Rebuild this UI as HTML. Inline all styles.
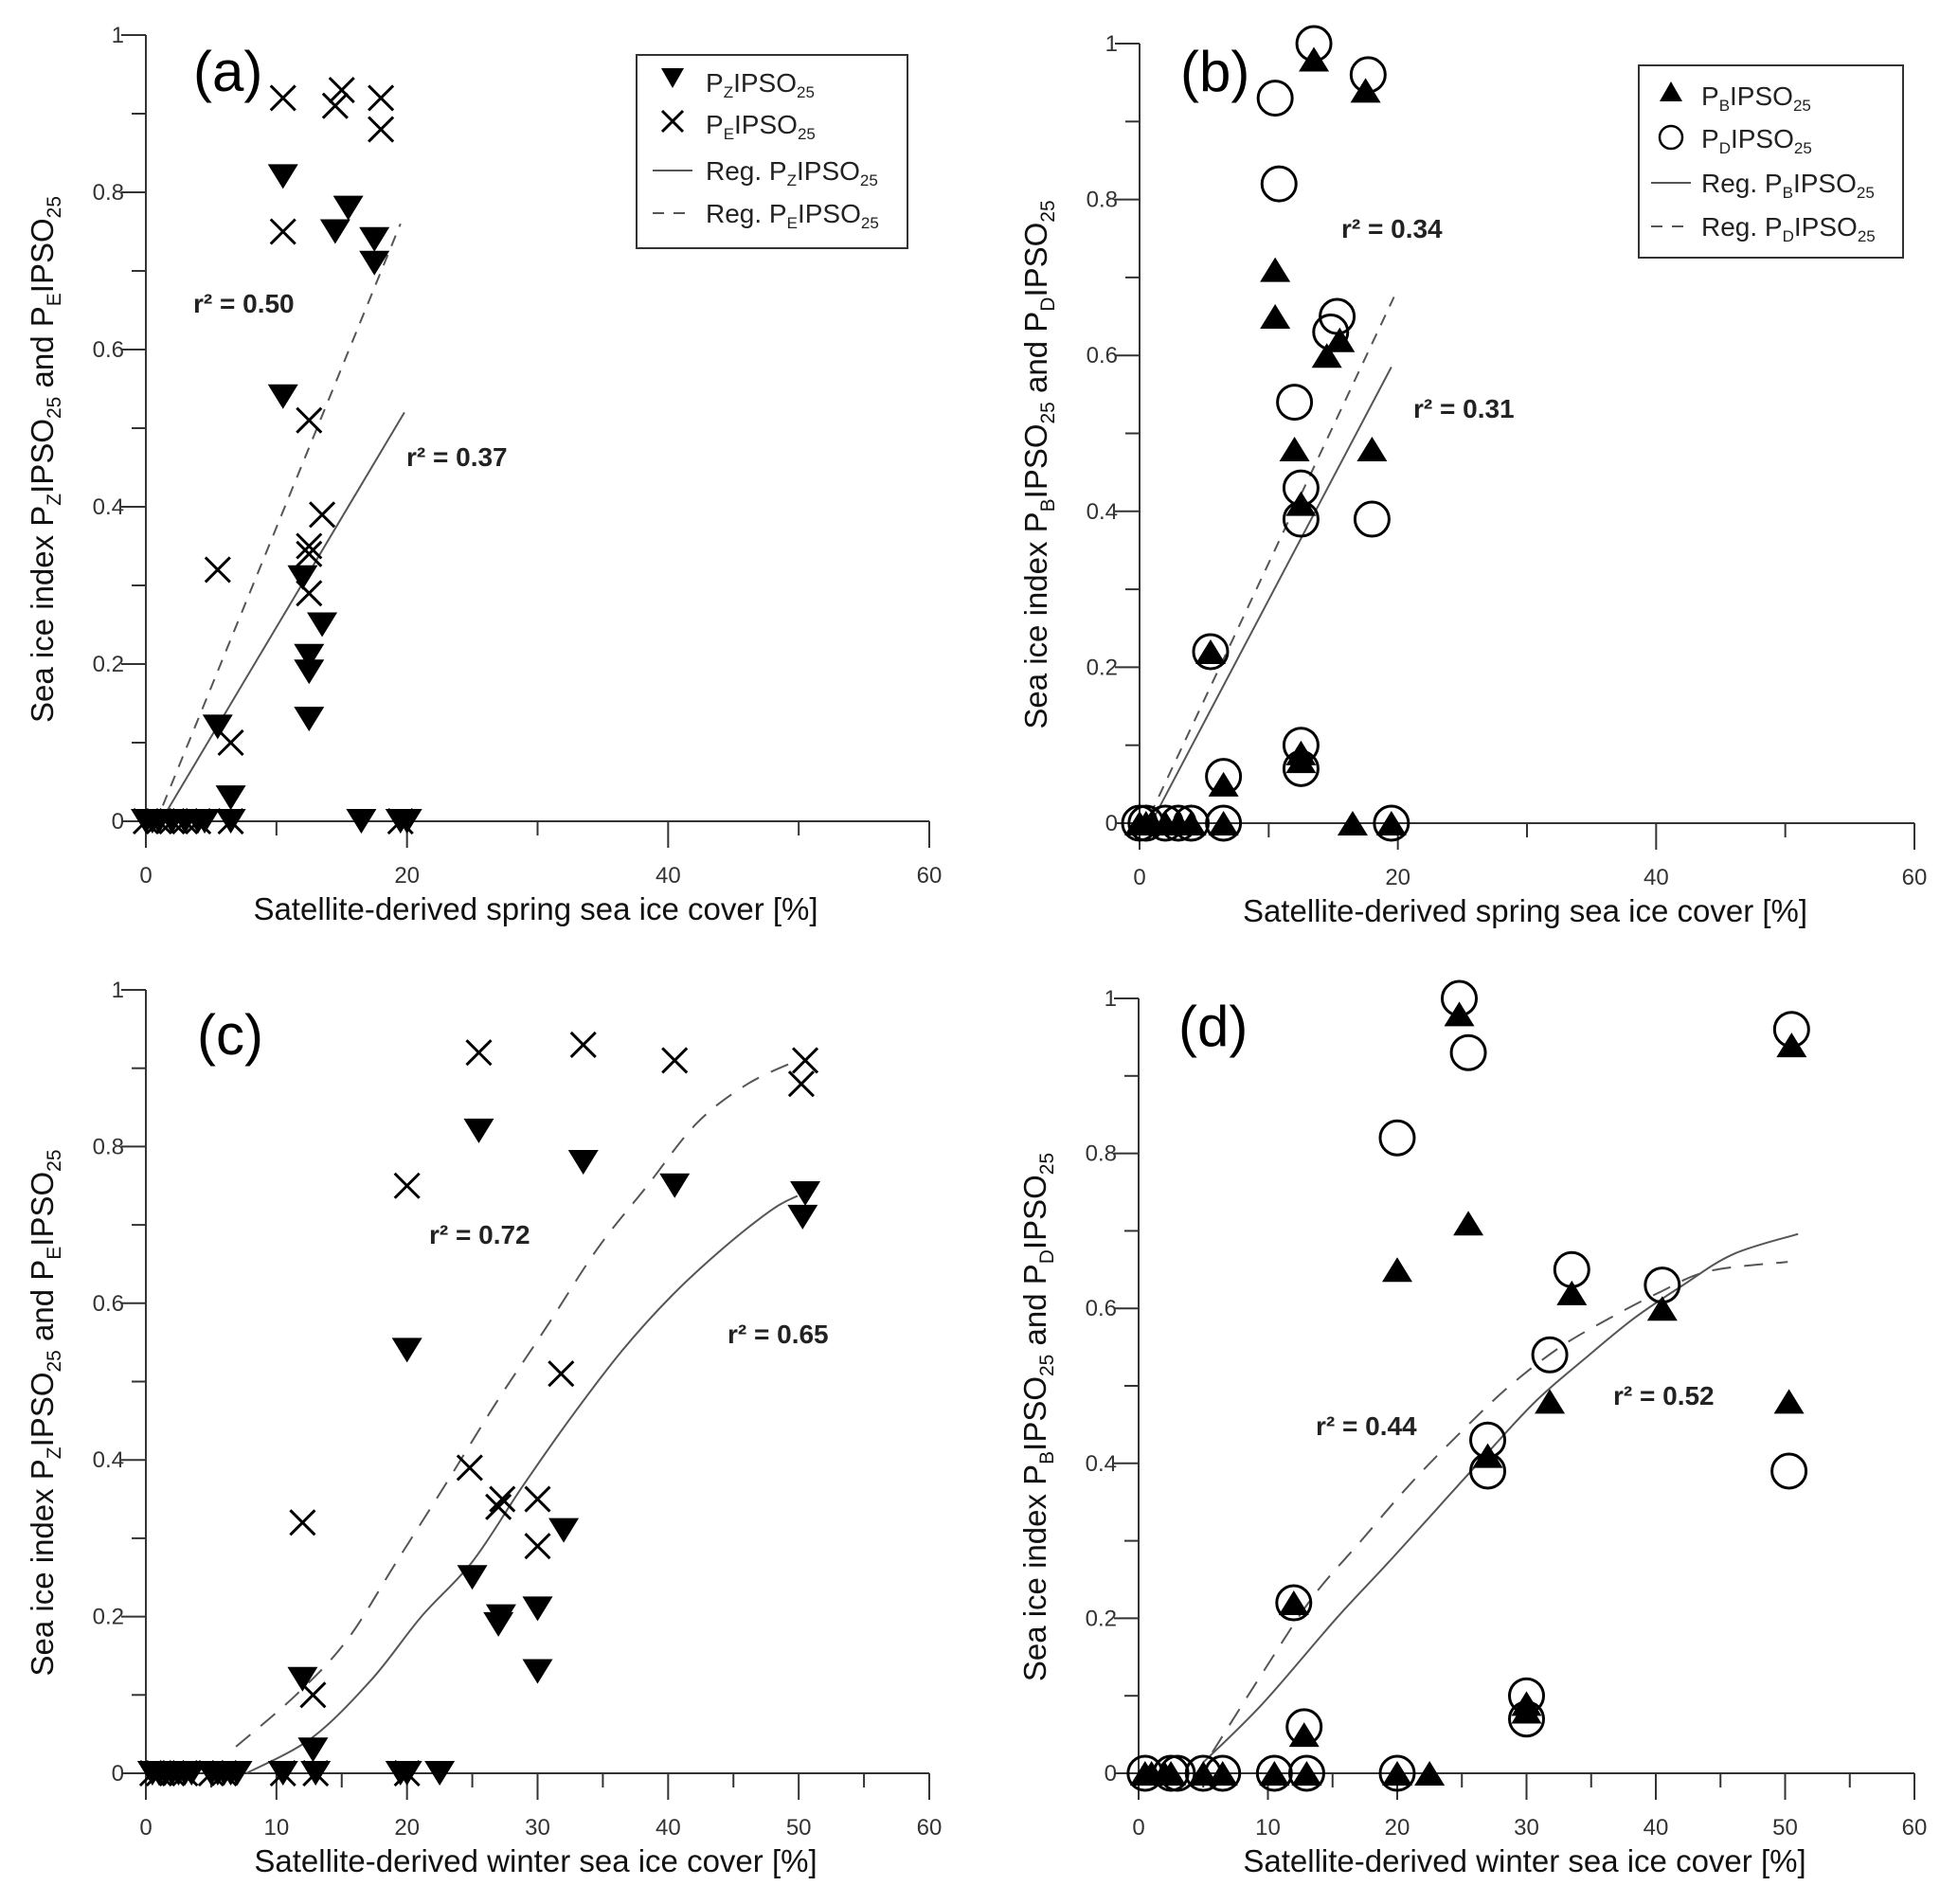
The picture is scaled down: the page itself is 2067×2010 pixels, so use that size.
<!DOCTYPE html>
<html><head><meta charset="utf-8"><style>
html,body{margin:0;padding:0;background:#fff}
svg{display:block}
text{font-family:"Liberation Sans",Arial,sans-serif}
</style></head><body>
<svg id="root" width="2067" height="2010" viewBox="0 0 2067 2010" xmlns="http://www.w3.org/2000/svg"></svg>
<script>
// ---------- DATA ----------
const pzSpringX=[0,0.5,1,2,3,4,4.5,5.5,6.5,6.5,10.5,10.5,12,12.5,12.5,12.5,13.5,14.5,15.5,16.5,17.5,17.5,19.5,20];
const pzSpringY=[0,0,0,0,0,0,0,0.12,0.03,0,0.82,0.54,0.31,0.21,0.19,0.13,0.25,0.75,0.78,0,0.74,0.71,0,0];
const peSpringX=[0,1,2,3,4,5.5,6.5,6.5,10.5,10.5,12.5,12.5,12.5,12.5,13.5,14.5,15,18,18,19.5];
const peSpringY=[0,0,0,0,0,0.32,0.10,0,0.92,0.75,0.51,0.35,0.34,0.29,0.39,0.91,0.93,0.92,0.88,0];
const regPzSpringX=[1.5,19.8], regPzSpringY=[0.01,0.52];
const regPeSpringX=[1.3,19.5], regPeSpringY=[0.02,0.76];

const pbSpringX=[0,0.5,1,2,3,4,6.5,16.5,19.5,5.5,6.5,10.5,10.5,12,12.5,12.5,12.5,13.5,14.5,15.5,17.5,18];
const pbSpringY=[0,0,0,0,0,0,0,0,0,0.22,0.05,0.71,0.65,0.48,0.41,0.09,0.08,0.98,0.60,0.62,0.94,0.48];
const pdSpringX=[0,0.5,2,3,4,6.5,19.5,5.5,6.5,10.5,10.8,12,12.5,12.5,12.5,12.5,13.5,14.8,15.3,17.7,18];
const pdSpringY=[0,0,0,0,0,0,0,0.22,0.06,0.93,0.82,0.54,0.43,0.39,0.10,0.07,1.0,0.63,0.65,0.96,0.39];
const regPbSpringX=[1.2,19.5], regPbSpringY=[0.01,0.585];
const regPdSpringX=[0.8,19.7], regPdSpringY=[0.01,0.675];

const pzWinterX=[0.5,1,1.5,2,2.5,3,3.5,5,5.5,6,6.5,7,10.5,13,19.5,20,22.5,12,12.8,25.5,33.5,40.5,20,50.5,50.3,25,27,27.2,30,30,32];
const pzWinterY=[0,0,0,0,0,0,0,0,0,0,0,0,0,0,0,0,0,0.12,0.03,0.82,0.78,0.75,0.54,0.74,0.71,0.25,0.19,0.20,0.21,0.13,0.31];
const peWinterX=[12,12.8,20,25.5,33.5,40.5,50.5,50.2,31.8,24.8,27.3,27,30,30,0.5,1,2,3,5,6,10.5,13,20];
const peWinterY=[0.32,0.10,0.75,0.92,0.93,0.91,0.91,0.88,0.51,0.39,0.35,0.34,0.35,0.29,0,0,0,0,0,0,0,0,0];
const regPzWinterX=[7.7,12.7,17.3,21.1,25,28.8,32.6,36.5,40.3,44.2,48,49.9];
const regPzWinterY=[0,0.045,0.12,0.20,0.27,0.365,0.455,0.54,0.61,0.67,0.72,0.737];
const regPeWinterX=[6.9,11.5,15.4,19.2,23,26.9,30.7,34.6,38.4,42.2,46.1,49.9];
const regPeWinterY=[0.034,0.10,0.17,0.27,0.37,0.475,0.57,0.67,0.75,0.83,0.88,0.91];

const pbWinterX=[0.5,1,2,2.5,5,6.5,10.5,13,20,22.5,12,12.8,20,24.8,25.5,27,30,30,31.8,33.5,40.5,50.5,50.3];
const pbWinterY=[0,0,0,0,0,0,0,0,0,0,0.22,0.05,0.65,0.98,0.71,0.41,0.09,0.08,0.48,0.62,0.60,0.94,0.48];
const pdWinterX=[0.5,2.5,3,5,6.5,10.5,13,20,12,12.8,20,24.8,25.5,27,27,30,30,31.8,33.5,40.5,50.3,50.5];
const pdWinterY=[0,0,0,0,0,0,0,0,0.22,0.06,0.82,1.0,0.93,0.43,0.39,0.10,0.07,0.54,0.65,0.63,0.39,0.96];
const regPbWinterX=[5,9.6,15.3,19.2,23,26.8,30.7,34.5,38.3,42.1,46,51];
const regPbWinterY=[0.014,0.09,0.20,0.27,0.34,0.41,0.48,0.535,0.587,0.63,0.67,0.696];
const regPdWinterX=[5.7,9.6,13.4,17.2,21.1,24.9,28.7,32.6,36.4,40.2,44.1,50.2];
const regPdWinterY=[0.027,0.13,0.226,0.30,0.375,0.44,0.50,0.55,0.587,0.62,0.648,0.66];

const yTickLabels=["0","0.2","0.4","0.6","0.8","1"];
const xTickLabelsSpring=["0","20","40","60"];
const xTickLabelsWinter=["0","10","20","30","40","50","60"];

// ---------- DRAW ----------
const NS="http://www.w3.org/2000/svg";
const root=document.getElementById('root');
function mk(tag,attrs,parent){const e=document.createElementNS(NS,tag);for(const k in attrs)e.setAttribute(k,attrs[k]);(parent||root).appendChild(e);return e;}

function smoothPath(pts){
  if(pts.length<3) return pts.map((p,i)=>(i?'L':'M')+p[0].toFixed(1)+','+p[1].toFixed(1)).join(' ');
  let d='M'+pts[0][0].toFixed(1)+','+pts[0][1].toFixed(1);
  for(let i=0;i<pts.length-1;i++){
    const p0=pts[Math.max(0,i-1)],p1=pts[i],p2=pts[i+1],p3=pts[Math.min(pts.length-1,i+2)];
    const c1=[p1[0]+(p2[0]-p0[0])/6,p1[1]+(p2[1]-p0[1])/6];
    const c2=[p2[0]-(p3[0]-p1[0])/6,p2[1]-(p3[1]-p1[1])/6];
    d+=` C${c1[0].toFixed(1)},${c1[1].toFixed(1)} ${c2[0].toFixed(1)},${c2[1].toFixed(1)} ${p2[0].toFixed(1)},${p2[1].toFixed(1)}`;
  }
  return d;
}

function panel(cfg){
  const g=mk('g',{});
  
  
  const sx=v=>cfg.x0+(cfg.x60-cfg.x0)*v/60;
  const sy=v=>cfg.y0-(cfg.y0-cfg.y1)*v;
  const ax=mk('g',{stroke:'#333','stroke-width':2},g);
  
  
  mk('line',{x1:cfg.x0,y1:cfg.y0,x2:cfg.x60,y2:cfg.y0},ax);
  mk('line',{x1:cfg.x0,y1:cfg.y0,x2:cfg.x0,y2:cfg.y1},ax);
  for(let i=0;i<=10;i++){const y=sy(i/10);const len=i%2==0?26:15;mk('line',{x1:cfg.x0-len,y1:y,x2:cfg.x0,y2:y},ax);}
  const step=cfg.winter?5:10;
  for(let v=0;v<=60;v+=step){const x=sx(v);const major=cfg.winter?(v%10==0):(v%20==0);mk('line',{x1:x,y1:cfg.y0,x2:x,y2:cfg.y0+(major?28:15)},ax);}
  yTickLabels.forEach((t,i)=>{const e=mk('text',{x:cfg.x0-23,y:sy(i*0.2)+8,'text-anchor':'end','font-size':24,fill:'#333'},g);e.textContent=t;
    
    });
  const xl=cfg.winter?xTickLabelsWinter:xTickLabelsSpring;
  xl.forEach(t=>{const e=mk('text',{x:sx(+t),y:cfg.y0+65,'text-anchor':'middle','font-size':24,fill:'#333'},g);e.textContent=t;
    
    });
  const xt=mk('text',{x:(cfg.x0+cfg.x60)/2-2,y:cfg.y0+104,'text-anchor':'middle','font-size':33,fill:'#111'},g);
  xt.textContent=cfg.xTitle;
  
  
  const cy=(cfg.y0+cfg.y1)/2+33;
  const yt=mk('text',{x:0,y:0,'text-anchor':'middle','font-size':33,fill:'#111',transform:`translate(${cfg.x0-98},${cy}) rotate(-90)`},g);
  
  
  yt.innerHTML=`Sea ice index ${cfg.sep}P<tspan font-size="21" dy="8">${cfg.s1}</tspan><tspan dy="-8">IPSO</tspan><tspan font-size="21" dy="8">25</tspan><tspan dy="-8"> and P</tspan><tspan font-size="21" dy="8">${cfg.s2}</tspan><tspan dy="-8">IPSO</tspan><tspan font-size="21" dy="8">25</tspan>`;
  function line(xs,ys,dash,name){
    const pts=xs.map((x,i)=>[sx(x),sy(ys[i])]);
    const p=mk('path',{d:smoothPath(pts),fill:'none',stroke:'#555','stroke-width':2,'stroke-dasharray':dash||'none'},g);
    
    }
  line(cfg.r1x,cfg.r1y,null,'regression-line-solid');
  line(cfg.r2x,cfg.r2y,cfg.winter?'20 14':'12 10','regression-line-dashed');
  function marker(type,cx,cy,parent){
    let e;
    if(type=='down') e=mk('path',{d:`M${cx-16},${cy-13} L${cx+16},${cy-13} L${cx},${cy+13} Z`,fill:'#000'},parent);
    else if(type=='up') e=mk('path',{d:`M${cx-16},${cy+13} L${cx+16},${cy+13} L${cx},${cy-13} Z`,fill:'#000'},parent);
    else if(type=='x') e=mk('path',{d:`M${cx-13},${cy-13} L${cx+13},${cy+13} M${cx+13},${cy-13} L${cx-13},${cy+13}`,stroke:'#000','stroke-width':3,fill:'none'},parent);
    else e=mk('circle',{cx:cx,cy:cy,r:18,fill:'none',stroke:'#000','stroke-width':3},parent);
    return e;
  }
  cfg.series.forEach(s=>{
    const sg=mk('g',{},g);
    
    
    s.xs.forEach((x,i)=>{const m=marker(s.type,sx(x),sy(s.ys[i]),sg);
      
      });
  });
  const pl=mk('text',{x:cfg.lab[0],y:cfg.lab[1],'font-size':60,fill:'#000'},g);
  pl.textContent='('+cfg.id+')';
  
  
  cfg.r2.forEach(r=>{const e=mk('text',{x:r[0],y:r[1],'font-size':28,'font-weight':'bold',fill:'#222'},g);e.textContent='r² = '+r[2];
    
    });
  if(cfg.leg){
    const L=cfg.leg;
    const lg=mk('g',{},g);
    
    
    mk('rect',{x:L.x,y:L.y,width:L.w,height:L.h,fill:'#fff',stroke:'#333','stroke-width':2},lg);
    L.items.forEach((it,i)=>{
      const by=L.by[i];
      const ent=mk('g',{},lg);
      
      
      if(it.type=='line') mk('line',{x1:L.mx-21,y1:by-10,x2:L.mx+21,y2:by-10,stroke:'#555','stroke-width':2,'stroke-dasharray':it.dash||'none'},ent);
      else if(it.type=='down') mk('path',{d:`M${L.mx-12},${by-25} L${L.mx+12},${by-25} L${L.mx},${by-4} Z`,fill:'#000'},ent);
      else if(it.type=='up') mk('path',{d:`M${L.mx-12},${by-4} L${L.mx+12},${by-4} L${L.mx},${by-25} Z`,fill:'#000'},ent);
      else if(it.type=='x') mk('path',{d:`M${L.mx-11},${by-24} L${L.mx+11},${by-2} M${L.mx+11},${by-24} L${L.mx-11},${by-2}`,stroke:'#000','stroke-width':3},ent);
      else mk('circle',{cx:L.mx,cy:by-11,r:12,fill:'none',stroke:'#000','stroke-width':2.5},ent);
      const t=mk('text',{x:L.tx,y:by,'font-size':28,fill:'#222'},ent);
      t.innerHTML=`${it.pre}P<tspan font-size="17" dy="6">${it.s}</tspan><tspan dy="-6">IPSO</tspan><tspan font-size="17" dy="6">25</tspan>`;
    });
  }
}

panel({id:'a',x0:154,x60:981,y0:867,y1:37,winter:false,xTitle:'Satellite-derived spring sea ice cover [%]',sep:' ',s1:'Z',s2:'E',
  r1x:regPzSpringX,r1y:regPzSpringY,r2x:regPeSpringX,r2y:regPeSpringY,
  series:[{name:'pz-ipso25',type:'down',xs:pzSpringX,ys:pzSpringY},{name:'pe-ipso25',type:'x',xs:peSpringX,ys:peSpringY}],
  lab:[204,96],r2:[[204,330,'0.50'],[429,492,'0.37']],
  leg:{x:672,y:58,w:286,h:204,mx:710,tx:745,by:[97,141,190,235],items:[{type:'down',pre:'',s:'Z'},{type:'x',pre:'',s:'E'},{type:'line',pre:'Reg. ',s:'Z'},{type:'line',dash:'12 10',pre:'Reg. ',s:'E'}]}});
panel({id:'b',x0:1203,x60:2021,y0:869,y1:46,winter:false,xTitle:'Satellite-derived spring sea ice cover [%]',sep:'',s1:'B',s2:'D',
  r1x:regPbSpringX,r1y:regPbSpringY,r2x:regPdSpringX,r2y:regPdSpringY,
  series:[{name:'pd-ipso25',type:'o',xs:pdSpringX,ys:pdSpringY},{name:'pb-ipso25',type:'up',xs:pbSpringX,ys:pbSpringY}],
  lab:[1246,96],r2:[[1416,251,'0.34'],[1492,441,'0.31']],
  leg:{x:1730,y:69,w:279,h:203,mx:1764,tx:1796,by:[111,156,203,249],items:[{type:'up',pre:'',s:'B'},{type:'o',pre:'',s:'D'},{type:'line',pre:'Reg. ',s:'B'},{type:'line',dash:'12 10',pre:'Reg. ',s:'D'}]}});
panel({id:'c',x0:154,x60:981,y0:1872,y1:1045,winter:true,xTitle:'Satellite-derived winter sea ice cover [%]',sep:' ',s1:'Z',s2:'E',
  r1x:regPzWinterX,r1y:regPzWinterY,r2x:regPeWinterX,r2y:regPeWinterY,
  series:[{name:'pz-ipso25',type:'down',xs:pzWinterX,ys:pzWinterY},{name:'pe-ipso25',type:'x',xs:peWinterX,ys:peWinterY}],
  lab:[208,1113],r2:[[453,1313,'0.72'],[768,1418,'0.65']]});
panel({id:'d',x0:1202,x60:2021,y0:1872,y1:1054,winter:true,xTitle:'Satellite-derived winter sea ice cover [%]',sep:'',s1:'B',s2:'D',
  r1x:regPbWinterX,r1y:regPbWinterY,r2x:regPdWinterX,r2y:regPdWinterY,
  series:[{name:'pd-ipso25',type:'o',xs:pdWinterX,ys:pdWinterY},{name:'pb-ipso25',type:'up',xs:pbWinterX,ys:pbWinterY}],
  lab:[1244,1104],r2:[[1389,1515,'0.44'],[1703,1483,'0.52']]});
</script>
</body></html>
